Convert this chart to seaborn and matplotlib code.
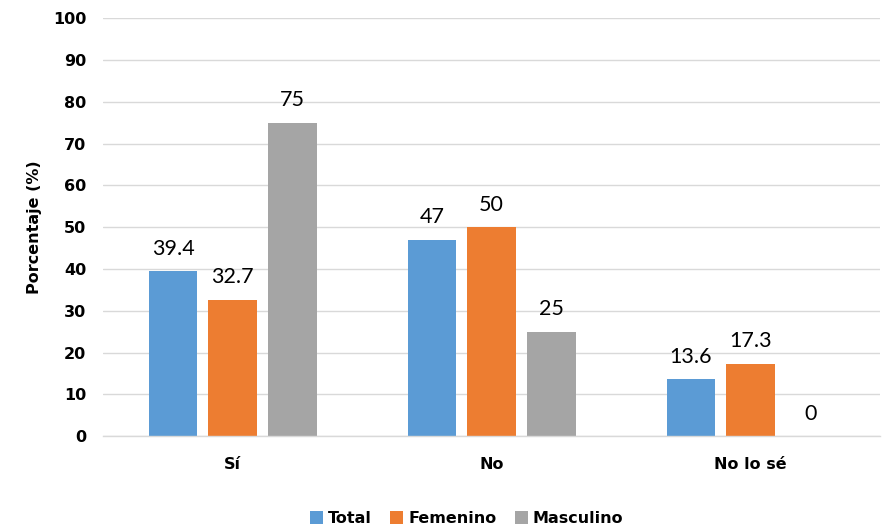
import matplotlib
matplotlib.use("Agg")
import matplotlib.pyplot as plt
import seaborn as sns
import pandas as pd
from matplotlib.patches import Patch

categories = ["Sí", "No", "No lo sé"]
series = ["Total", "Femenino", "Masculino"]
total = [39.4, 47, 13.6]
femenino = [32.7, 50, 17.3]
masculino = [75, 25, 0]
yticks = [0, 10, 20, 30, 40, 50, 60, 70, 80, 90, 100]
colors = ["#5B9BD5", "#ED7D31", "#A5A5A5"]

df = pd.DataFrame({
    "Respuesta": categories * 3,
    "Grupo": [s for s in series for _ in categories],
    "Porcentaje": total + femenino + masculino,
})

sns.set_theme(style="white")
plt.rcParams["font.family"] = ["Lato", "DejaVu Sans"]
plt.rcParams["text.color"] = "black"
plt.rcParams["axes.labelcolor"] = "black"
plt.rcParams["xtick.color"] = "black"
plt.rcParams["ytick.color"] = "black"
bold = ["DejaVu Sans"]

fig = plt.figure(figsize=(8.89, 5.32), dpi=100)
ax = fig.add_axes([0.116, 0.180, 0.874, 0.786])

sns.barplot(data=df, x="Respuesta", y="Porcentaje", hue="Grupo",
            order=categories, hue_order=series, palette=colors,
            width=0.69, gap=0.18, ax=ax, legend=False, errorbar=None,
            saturation=1, linewidth=0)

for cont in ax.containers:
    ax.bar_label(cont, labels=[f"{v:g}" for v in cont.datavalues],
                 padding=9, fontsize=15.5, color="black")

ax.set_ylim(0, 100)
ax.set_yticks(yticks)
ax.set_yticklabels([str(t) for t in yticks], fontsize=11.5,
                   fontweight="bold", family=bold)
ax.set_xticks(range(len(categories)))
ax.set_xticklabels(categories, fontsize=11.5, fontweight="bold", family=bold)
ax.tick_params(axis="x", length=0, pad=15)
ax.tick_params(axis="y", length=0, pad=12)
ax.set_xlabel("")
ax.set_ylabel("Porcentaje (%)", fontsize=11.5, fontweight="bold",
              family=bold, labelpad=8)
ax.yaxis.grid(True, color="#D9D9D9", linewidth=1)
ax.set_axisbelow(True)
for side in ["top", "right", "left"]:
    ax.spines[side].set_visible(False)
ax.spines["bottom"].set_color("#D9D9D9")
ax.spines["bottom"].set_linewidth(1)
ax.set_xlim(-0.5, 2.5)

handles = [Patch(facecolor=c, edgecolor="none", label=s) for s, c in zip(series, colors)]
fig.legend(handles=handles, loc="lower center", bbox_to_anchor=(0.525, -0.016),
           ncol=3, frameon=False, handlelength=0.8, handleheight=0.8,
           handletextpad=0.3, columnspacing=1.2, labelcolor="black",
           prop={"size": 11.5, "weight": "bold", "family": bold})

fig.savefig("out.png", dpi=100)
